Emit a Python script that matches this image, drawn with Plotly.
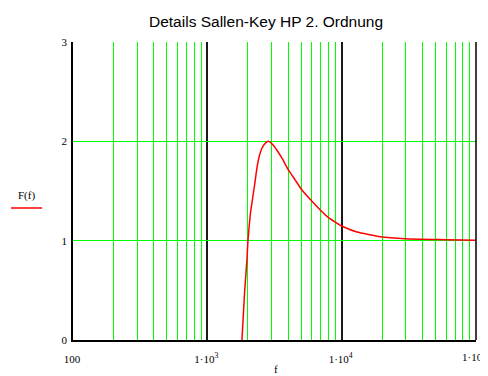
import plotly.graph_objects as go

# Curve samples
freq = [1810, 1892, 1972, 2006, 2086, 2148, 2208, 2274, 2340, 2435, 2550, 2698,
        2856, 3027, 3298, 3594, 4024, 4513, 5063, 6178, 7773, 9647, 10280,
        13000, 19390, 29770, 59060, 100000]
gain = [0.0, 0.47, 0.81, 1.0, 1.26, 1.38, 1.49, 1.61, 1.73, 1.85, 1.93, 1.98,
        2.0, 1.975, 1.91, 1.83, 1.71, 1.61, 1.51, 1.38, 1.245, 1.16, 1.14,
        1.087, 1.04, 1.02, 1.01, 1.003]

x_major = [100, 1000, 10000, 100000]
x_major_text = ["100", "1·10<sup>3</sup>", "1·10<sup>4</sup>", ""]
last_tick_text = "1·10<sup>5</sup>"
x_minor = [m * d for d in (100, 1000, 10000) for m in range(2, 10)]
y_ticks = [0, 1, 2, 3]

title_text = "Details Sallen-Key HP 2. Ordnung"
x_label = "f"
y_label = "F(f)"

GREEN = "#00ff00"
serif = "Liberation Serif, Times New Roman, serif"

# page is rendered with an 8px body margin
OFF = 8
W, H = 488 - OFF, 376 - OFF
l, r, t, b = 73 - OFF, 12, 42 - OFF, 36
pw, ph = W - l - r, H - t - b


def px_to_paper(px, py):
    return (px - OFF - l) / pw, 1 - (py - OFF - t) / ph


fig = go.Figure()
fig.add_trace(go.Scatter(x=freq, y=gain, mode="lines",
                         line=dict(color="#ff0000", width=1.5, shape="spline", smoothing=0.4),
                         showlegend=False, hoverinfo="skip"))

annos = []
for text, (px, py), fnt, xa in [
    (title_text, (266, 21), dict(family="Liberation Sans, Arial, sans-serif", size=15.5, color="black"), "center"),
    (x_label, (276, 369), dict(family=serif, size=11, color="black"), "center"),
    (y_label, (26, 195), dict(family=serif, size=11, color="black"), "center"),
    (last_tick_text, (487, 356), dict(family=serif, size=11, color="black"), "right"),
]:
    ax, ay = px_to_paper(px, py)
    annos.append(dict(text=text, x=ax, y=ay, xref="paper", yref="paper",
                      showarrow=False, font=fnt, xanchor=xa, yanchor="middle",
                      borderpad=0))

fig.update_layout(
    width=W, height=H,
    margin=dict(l=l, r=r, t=t, b=b, autoexpand=False),
    paper_bgcolor="white", plot_bgcolor="white",
    showlegend=False,
    xaxis=dict(type="log", range=[2, 5], tickmode="array", tickvals=x_major,
               ticktext=x_major_text, showgrid=True, gridcolor="#1a1a1a", gridwidth=1.5,
               showline=True, linecolor="black", linewidth=1.5, ticks="",
               ticklabelstandoff=8, ticklabelshift=-1,
               zeroline=False, tickfont=dict(family=serif, size=11, color="black"),
               minor=dict(tickmode="array", tickvals=x_minor, showgrid=True,
                          gridcolor=GREEN, gridwidth=1, ticks="")),
    yaxis=dict(range=[0, 3], tickmode="array", tickvals=y_ticks,
               showgrid=True, gridcolor=GREEN, gridwidth=1,
               showline=True, linecolor="black", linewidth=1.5, ticks="",
               ticklabelstandoff=2,
               zeroline=False, tickfont=dict(family=serif, size=11, color="black")),
    annotations=annos,
)

# legend-style red line under the y label
x0, y0 = px_to_paper(11, 208)
x1, _ = px_to_paper(42, 208)
fig.add_shape(type="line", xref="paper", yref="paper",
              x0=x0, x1=x1, y0=y0, y1=y0,
              line=dict(color="#ff0000", width=1.5))

# black right frame edge
fig.add_shape(type="line", xref="paper", yref="paper",
              x0=1, x1=1, y0=0, y1=1,
              line=dict(color="black", width=1.5), layer="above")

fig.write_html("out.html")
